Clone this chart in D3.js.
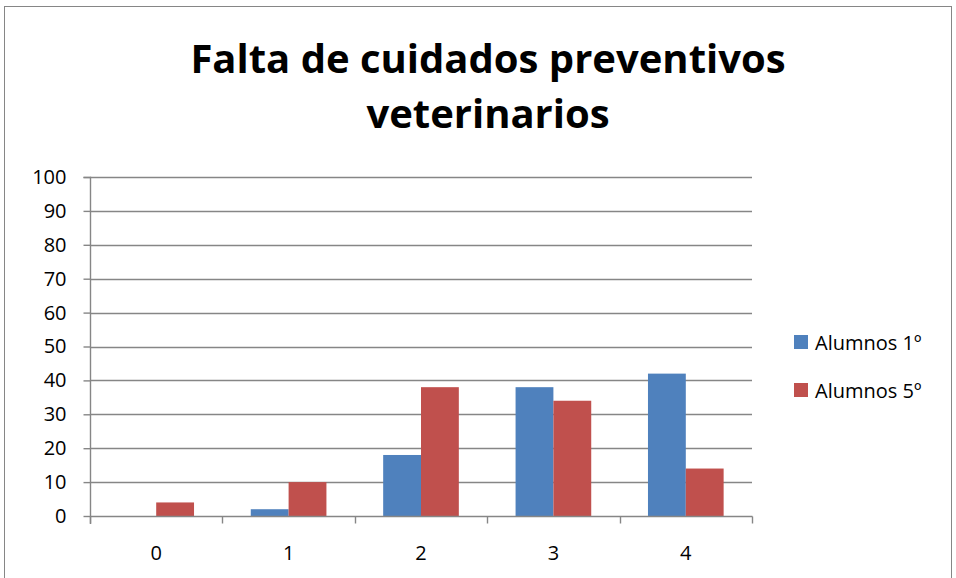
<!DOCTYPE html>
<html>
<head>
<meta charset="utf-8">
<script src="https://cdn.jsdelivr.net/npm/d3@7"></script>
<style>
  body { margin: 0; background: #fff; }
  text { font-family: "Open Sans", "Noto Sans", sans-serif; fill: #000; }
</style>
</head>
<body>
<svg id="chart" width="956" height="578"></svg>
<script>
// values
var categories = ["0", "1", "2", "3", "4"];
var seriesNames = ["Alumnos 1º", "Alumnos 5º"];
var alumnos1 = [0, 2, 18, 38, 42];
var alumnos5 = [4, 10, 38, 34, 14];
var yTicks = [0, 10, 20, 30, 40, 50, 60, 70, 80, 90, 100];
var titleLines = ["Falta de cuidados preventivos", "veterinarios"];

var colors = ["#4F81BD", "#C0504D"];
var gridColor = "#868686";

var svg = d3.select("#chart");

// outer chart border
svg.append("rect")
    .attr("x", 4.5).attr("y", 6.5)
    .attr("width", 947).attr("height", 580)
    .attr("fill", "none")
    .attr("stroke", gridColor)
    .attr("stroke-width", 1);

// title
svg.append("text")
    .attr("x", 488).attr("y", 73)
    .attr("text-anchor", "middle")
    .style("font-size", "40px").style("font-weight", "bold")
    .text(titleLines[0]);
svg.append("text")
    .attr("x", 488).attr("y", 128)
    .attr("text-anchor", "middle")
    .style("font-size", "40px").style("font-weight", "bold")
    .text(titleLines[1]);

var plot = {left: 90, right: 752, top: 177, bottom: 516};

var x0 = d3.scaleBand()
    .domain(categories)
    .range([plot.left, plot.right])
    .paddingInner(1.5 / 3.5)
    .paddingOuter(0.75 / 3.5);

var x1 = d3.scaleBand()
    .domain(seriesNames)
    .range([0, x0.bandwidth()]);

var y = d3.scaleLinear()
    .domain([0, 100])
    .range([plot.bottom, plot.top]);

// gridlines
svg.append("g")
    .selectAll("line")
    .data(yTicks.slice(1))
    .join("line")
    .attr("x1", plot.left).attr("x2", plot.right)
    .attr("y1", d => Math.round(y(d)) + 0.5)
    .attr("y2", d => Math.round(y(d)) + 0.5)
    .attr("stroke", gridColor).attr("stroke-width", 1.4);

// bars
var rows = categories.map((c, i) => ({cat: c, vals: [alumnos1[i], alumnos5[i]]}));
svg.append("g")
    .selectAll("g")
    .data(rows)
    .join("g")
    .attr("transform", d => "translate(" + x0(d.cat) + ",0)")
    .selectAll("rect")
    .data(d => d.vals.map((v, j) => ({name: seriesNames[j], value: v, j: j})))
    .join("rect")
    .attr("x", d => x1(d.name))
    .attr("width", x1.bandwidth())
    .attr("y", d => y(d.value))
    .attr("height", d => y(0) - y(d.value))
    .attr("fill", d => colors[d.j]);

// y axis
var yAxis = svg.append("g")
    .attr("transform", "translate(" + (plot.left + 0.5) + ",0)")
    .call(d3.axisLeft(y).tickValues(yTicks).tickSize(7).tickPadding(17));
yAxis.select(".domain").attr("stroke", gridColor).attr("stroke-width", 1.4)
    .attr("d", "M-7," + (plot.top + 0.5) + "H0V" + (plot.bottom + 8));
yAxis.selectAll(".tick line").attr("stroke", gridColor).attr("stroke-width", 1.4);
yAxis.selectAll(".tick text")
    .style("font-family", "'Open Sans', sans-serif")
    .style("font-size", "20px").attr("fill", "#000");

// x axis
var xTickScale = d3.scaleLinear().domain([0, categories.length]).range([plot.left, plot.right]);
var xAxis = svg.append("g")
    .attr("transform", "translate(0," + (plot.bottom + 0.5) + ")");
xAxis.append("line")
    .attr("x1", plot.left).attr("x2", plot.right + 0.5)
    .attr("stroke", gridColor).attr("stroke-width", 1.4);
xAxis.selectAll(".xt")
    .data(d3.range(categories.length + 1))
    .join("line")
    .attr("class", "xt")
    .attr("x1", d => Math.round(xTickScale(d)) + 0.5)
    .attr("x2", d => Math.round(xTickScale(d)) + 0.5)
    .attr("y1", 0).attr("y2", 7)
    .attr("stroke", gridColor).attr("stroke-width", 1.4);
xAxis.selectAll(".xl")
    .data(categories)
    .join("text")
    .attr("class", "xl")
    .attr("x", d => x0(d) + x0.bandwidth() / 2)
    .attr("y", 43)
    .attr("text-anchor", "middle")
    .style("font-size", "20px")
    .text(d => d);

// legend
var legend = svg.append("g")
    .selectAll("g")
    .data(seriesNames)
    .join("g")
    .attr("transform", (d, i) => "translate(794," + (335 + i * 48) + ")");
legend.append("rect")
    .attr("width", 14).attr("height", 14)
    .attr("fill", (d, i) => colors[i]);
legend.append("text")
    .attr("x", 21).attr("y", 15)
    .style("font-size", "20px")
    .text(d => d);
</script>
</body>
</html>
